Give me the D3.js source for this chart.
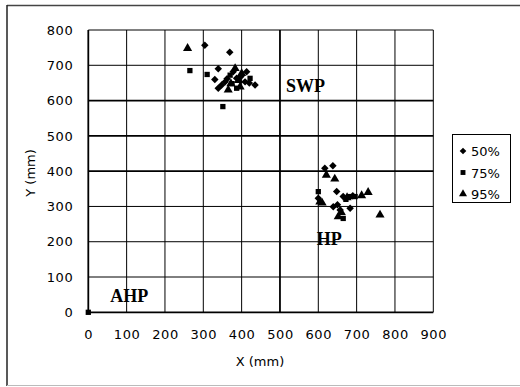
<!DOCTYPE html>
<html>
<head>
<meta charset="utf-8">
<script src="https://cdn.jsdelivr.net/npm/d3@7"></script>
<style>
  body { margin: 0; background: #fff; }
  svg text { font-family: "DejaVu Sans", sans-serif; fill: #000; }
  .region { font-family: "Liberation Serif", "DejaVu Serif", serif; }
</style>
</head>
<body>
<div id="chart"></div>
<script>
var width = 520;
var height = 387;

// tick values
var xTicks = [0, 100, 200, 300, 400, 500, 600, 700, 800, 900];
var yTicks = [0, 100, 200, 300, 400, 500, 600, 700, 800];

// series names
var seriesNames = ['50%', '75%', '95%'];

// points, [x, y] in mm
var p50 = [[304, 757], [369, 737], [339, 690], [435, 644], [339, 635], [357, 653],
  [387, 663], [409, 653], [348, 644], [378, 682], [413, 682], [330, 660],
  [362, 662], [398, 668], [420, 650],
  [617, 408], [638, 415], [648, 342], [600, 323], [639, 299], [683, 295],
  [665, 328], [690, 330], [657, 290], [650, 305]];
var p75 = [[265, 685], [310, 674], [351, 583], [370, 672], [422, 663], [387, 635],
  [375, 648], [0, 0], [600, 342], [665, 266], [683, 328], [696, 328], [672, 320]];
var p95 = [[259, 748], [383, 691], [400, 677], [365, 630], [396, 639], [372, 648],
  [392, 657], [621, 389], [643, 378], [604, 313], [713, 331], [730, 340], [652, 271],
  [761, 276], [660, 283], [610, 310], [675, 325]];

// region labels [text, x, y]
var regionLabels = [['SWP', 516, 625], ['HP', 596, 191], ['AHP', 57, 30]];

var svg = d3.select('#chart')
  .append('svg')
  .attr('width', width)
  .attr('height', height);

// outer frame
svg.append('line').attr('x1', 7).attr('y1', 5.5).attr('x2', 520).attr('y2', 5.5)
  .attr('stroke', '#444').attr('stroke-width', 1.5);
svg.append('line').attr('x1', 7).attr('y1', 5).attr('x2', 7).attr('y2', 386)
  .attr('stroke', '#222').attr('stroke-width', 1.5);
svg.append('line').attr('x1', 7).attr('y1', 385.5).attr('x2', 520).attr('y2', 385.5)
  .attr('stroke', '#bbb').attr('stroke-width', 1);

var xScale = d3.scaleLinear().domain([0, 900]).range([88.3, 433.3]);
var yScale = d3.scaleLinear().domain([0, 800]).range([312.3, 30]);

// heavier grid lines in the picture
var heavyX = [500];
var heavyY = [0, 400, 500, 600];

// grid
svg.append('g')
  .selectAll('line')
  .data(xTicks)
  .enter()
  .append('line')
  .attr('x1', d => xScale(d))
  .attr('x2', d => xScale(d))
  .attr('y1', yScale(800))
  .attr('y2', yScale(0))
  .attr('stroke', '#000')
  .attr('stroke-width', d => heavyX.indexOf(d) >= 0 || d === 0 ? 1.8 : 1);

svg.append('g')
  .selectAll('line')
  .data(yTicks)
  .enter()
  .append('line')
  .attr('x1', xScale(0))
  .attr('x2', xScale(900))
  .attr('y1', d => yScale(d))
  .attr('y2', d => yScale(d))
  .attr('stroke', '#000')
  .attr('stroke-width', d => heavyY.indexOf(d) >= 0 ? 1.8 : 1);

// axes (labels only)
var xAxis = d3.axisBottom(xScale).tickValues(xTicks).tickSize(0).tickPadding(17);
var gx = svg.append('g')
  .attr('transform', 'translate(0,' + yScale(0) + ')')
  .call(xAxis);
gx.select('.domain').remove();
gx.selectAll('text').style('font-size', '13px').style('letter-spacing', '0.6px')
  .style('font-family', '"DejaVu Sans", sans-serif');

var yAxis = d3.axisLeft(yScale).tickValues(yTicks).tickSize(0).tickPadding(15);
var gy = svg.append('g')
  .attr('transform', 'translate(' + xScale(0) + ',0)')
  .call(yAxis);
gy.select('.domain').remove();
gy.selectAll('text').style('font-size', '13px').style('letter-spacing', '0.6px')
  .style('font-family', '"DejaVu Sans", sans-serif');

// axis titles
svg.append('text')
  .attr('x', 260)
  .attr('y', 366)
  .attr('text-anchor', 'middle')
  .style('font-size', '13px')
  .text('X (mm)');

svg.append('text')
  .attr('transform', 'translate(35,173) rotate(-90)')
  .attr('text-anchor', 'middle')
  .style('font-size', '13px')
  .text('Y (mm)');

// region labels
svg.append('g')
  .selectAll('text')
  .data(regionLabels)
  .enter()
  .append('text')
  .attr('class', 'region')
  .attr('x', d => xScale(d[1]))
  .attr('y', d => yScale(d[2]))
  .style('font-size', '18px')
  .style('font-weight', 'bold')
  .text(d => d[0]);

// markers
var diamond = d3.symbol().type(d3.symbolSquare).size(28);
var square = d3.symbol().type(d3.symbolSquare).size(28);
var triangle = d3.symbol().type(d3.symbolTriangle).size(36);

svg.append('g')
  .selectAll('path')
  .data(p95)
  .enter()
  .append('path')
  .attr('d', triangle)
  .attr('transform', d => 'translate(' + xScale(d[0]) + ',' + yScale(d[1]) + ')')
  .attr('fill', '#000');

svg.append('g')
  .selectAll('path')
  .data(p75)
  .enter()
  .append('path')
  .attr('d', square)
  .attr('transform', d => 'translate(' + xScale(d[0]) + ',' + yScale(d[1]) + ')')
  .attr('fill', '#000');

svg.append('g')
  .selectAll('path')
  .data(p50)
  .enter()
  .append('path')
  .attr('d', diamond)
  .attr('transform', d => 'translate(' + xScale(d[0]) + ',' + yScale(d[1]) + ') rotate(45)')
  .attr('fill', '#000');

// legend
var legend = svg.append('g').attr('transform', 'translate(452,134)');
legend.append('rect')
  .attr('x', 0.5).attr('y', 0.5)
  .attr('width', 58).attr('height', 68)
  .attr('fill', '#fff')
  .attr('stroke', '#000')
  .attr('stroke-width', 1);

var legendShapes = [
  d3.symbol().type(d3.symbolSquare).size(22),
  d3.symbol().type(d3.symbolSquare).size(24),
  d3.symbol().type(d3.symbolTriangle).size(28)
];
var legendRows = legend.selectAll('g.row')
  .data(seriesNames)
  .enter()
  .append('g')
  .attr('class', 'row')
  .attr('transform', (d, i) => 'translate(0,' + (17 + i * 21.5) + ')');

legendRows.append('path')
  .attr('d', (d, i) => legendShapes[i]())
  .attr('transform', (d, i) => 'translate(11,0)' + (i === 0 ? ' rotate(45)' : ''))
  .attr('fill', '#000');

legendRows.append('text')
  .attr('x', 19)
  .attr('y', 5)
  .style('font-size', '13px')
  .text(d => d);
</script>
</body>
</html>
